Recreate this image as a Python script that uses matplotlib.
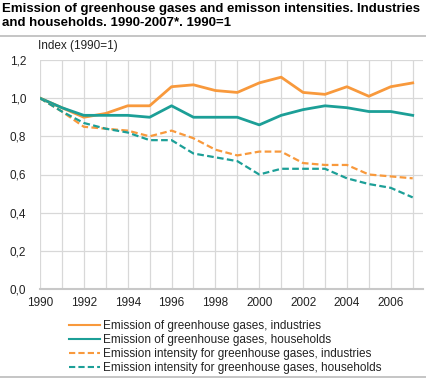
import numpy as np
import matplotlib.pyplot as plt

plt.rcParams['font.family'] = ['Liberation Sans', 'DejaVu Sans']

years = list(range(1990, 2008))
ghg_industries = [1.00, 0.95, 0.90, 0.92, 0.96, 0.96, 1.06, 1.07, 1.04, 1.03,
                  1.08, 1.11, 1.03, 1.02, 1.06, 1.01, 1.06, 1.08]
ghg_households = [1.00, 0.95, 0.91, 0.91, 0.91, 0.90, 0.96, 0.90, 0.90, 0.90,
                  0.86, 0.91, 0.94, 0.96, 0.95, 0.93, 0.93, 0.91]
int_industries = [1.00, 0.93, 0.85, 0.84, 0.83, 0.80, 0.83, 0.79, 0.73, 0.70,
                  0.72, 0.72, 0.66, 0.65, 0.65, 0.60, 0.59, 0.58]
int_households = [1.00, 0.93, 0.87, 0.84, 0.82, 0.78, 0.78, 0.71, 0.69, 0.67,
                  0.60, 0.63, 0.63, 0.63, 0.58, 0.55, 0.53, 0.48]
labels = ["Emission of greenhouse gases, industries",
          "Emission of greenhouse gases, households",
          "Emission intensity for greenhouse gases, industries",
          "Emission intensity for greenhouse gases, households"]
yticks = [0.0, 0.2, 0.4, 0.6, 0.8, 1.0, 1.2]
xticks = list(range(1990, 2007, 2))

ORANGE = '#f8993c'
TEAL = '#1c9f97'
W, H = 426, 379

fig = plt.figure(figsize=(W / 100, H / 100), dpi=100)
ax = fig.add_axes([40 / W, 1 - 289 / H, 383 / W, 229 / H])

ax.plot(years, ghg_industries, color=ORANGE, lw=2, label=labels[0])
ax.plot(years, ghg_households, color=TEAL, lw=2, label=labels[1])
ax.plot(years, int_industries, color=ORANGE, lw=1.6, ls=(0, (3, 1.5)), label=labels[2])
ax.plot(years, int_households, color=TEAL, lw=1.6, ls=(0, (3, 1.5)), label=labels[3])

ax.set_xlim(1990, 2007.47)
ax.set_ylim(0, 1.2)
ax.set_yticks(yticks)
ax.set_yticklabels([f"{v:.1f}".replace('.', ',') for v in yticks])
ax.set_xticks(years, minor=True)
ax.set_xticks(xticks)
ax.tick_params(which='both', length=0, labelsize=8.5, colors='#222222')
ax.tick_params(axis='y', pad=10)
ax.tick_params(axis='x', pad=6)
ax.grid(True, which='both', axis='x', color='#d8d8d8', lw=0.9)
ax.grid(True, axis='y', color='#d8d8d8', lw=0.9)
ax.set_axisbelow(True)
for s in ['top', 'right', 'left']:
    ax.spines[s].set_visible(False)
ax.spines['bottom'].set_color('#c8c8c8')
ax.spines['bottom'].set_linewidth(1.5)

leg = fig.legend(loc='upper left', bbox_to_anchor=(69 / W, 1 - 320 / H), frameon=False,
                 fontsize=8.5, handlelength=2.6, handletextpad=0.25, labelspacing=0.18,
                 borderaxespad=0, borderpad=0)
for t in leg.get_texts():
    t.set_color('#222222')
for h in leg.get_lines():
    h.set_linewidth(1.5)

fig.text(2 / W, 1 - 3 / H, "Emission of greenhouse gases and emisson intensities. Industries\n"
         "and households. 1990-2007*. 1990=1", ha='left', va='top', fontsize=9.5,
         fontweight='bold', linespacing=1.25)
fig.text(38 / W, 1 - 46 / H, "Index (1990=1)", ha='left', va='center', fontsize=8.5, color='#222222')
fig.add_artist(plt.Line2D([0, 1], [1 - 36 / H, 1 - 36 / H], color='#bbbbbb', lw=1.2))
fig.add_artist(plt.Line2D([0, 1], [1 - 377 / H, 1 - 377 / H], color='#bbbbbb', lw=1.2))

fig.savefig('out.png', dpi=100)
